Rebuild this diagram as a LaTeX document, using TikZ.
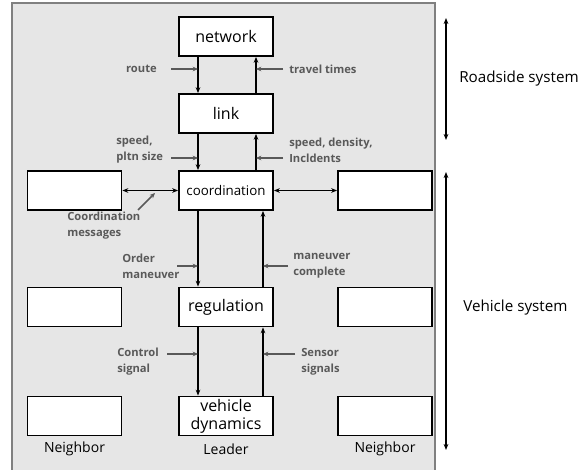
\documentclass[tikz,border=0pt]{standalone}
\usepackage{fontspec}
\setmainfont{Open Sans}
\usetikzlibrary{arrows.meta,positioning}

\definecolor{panelgray}{HTML}{E6E6E6}
\definecolor{hintgray}{HTML}{595959}

\begin{document}
\begin{tikzpicture}[x=0.75pt,y=-0.75pt,
	blockbox/.style={draw,line width=1.3pt,fill=white,minimum width=70.5pt,minimum height=29.25pt,inner sep=0pt,font=\fontsize{12}{12.5}\selectfont},
	flow/.style={line width=1.3pt,-{Stealth[length=4.5pt,width=3.5pt]}},
	dflow/.style={line width=1.3pt,{Stealth[length=4.5pt,width=3.5pt]}-{Stealth[length=4.5pt,width=3.5pt]}},
	hint/.style={draw=hintgray,line width=1.2pt,-{Stealth[length=4pt,width=3.5pt]}},
	hinttext/.style={text=hintgray,font=\fontsize{8.4}{12}\selectfont\bfseries,align=left,inner sep=0pt},
	nametext/.style={font=\fontsize{10.5}{12}\selectfont,inner sep=0pt},
	sidetext/.style={font=\fontsize{11.4}{14}\selectfont,inner sep=0pt}]
		\useasboundingbox (0,0) rectangle (588,470);
		\draw[gray,fill=panelgray,line width=0.8pt] (12,3) rectangle (435,474);

		% leader blocks
		\node[blockbox]									(network)		at (226,36.5)	{network};
		\node[blockbox]									(link)			at (226,113.5)	{link};
		\node[blockbox,font=\fontsize{10}{11}\selectfont]	(coordination)	at (226,190.5)	{coordination};
		\node[blockbox]									(regulation)	at (226,307)	{regulation};
		\node[blockbox,align=center,font=\fontsize{12}{13.5}\selectfont]	(dynamics)	at (226,416)	{vehicle\\dynamics};

		% neighbor blocks
		\node[blockbox]		(lcoord)	at (74.5,190.5)	{};
		\node[blockbox]		(lreg)		at (74.5,307)	{};
		\node[blockbox]		(ldyn)		at (74.5,416)	{};
		\node[blockbox]		(rcoord)	at (385,190.5)	{};
		\node[blockbox]		(rreg)		at (385,307)	{};
		\node[blockbox]		(rdyn)		at (385,416)	{};

		\node[nametext]		(lname)		at (74.5,449)	{Neighbor};
		\node[nametext]		(leader)	at (226,449)	{Leader};
		\node[nametext]		(rname)		at (385,449)	{Neighbor};

		% columns of the vertical arrows
		\coordinate (dn) at (198,0);
		\coordinate (up) at (256,0);
		\coordinate (uplow) at (263,0);

		\draw[flow] (network.south -| dn) -- (link.north -| dn);
		\draw[flow] (link.north -| up) -- (network.south -| up);
		\draw[flow] (link.south -| dn) -- (coordination.north -| dn);
		\draw[flow] (coordination.north -| up) -- (link.south -| up);
		\draw[flow] (coordination.south -| dn) -- (regulation.north -| dn);
		\draw[flow] (regulation.north -| uplow) -- (coordination.south -| uplow);
		\draw[flow] (regulation.south -| dn) -- (dynamics.north -| dn);
		\draw[flow] (dynamics.north -| uplow) -- (regulation.south -| uplow);

		\draw[dflow] (lcoord) -- (coordination);
		\draw[dflow] (rcoord) -- (coordination);

		% signal labels
		\node[hinttext,anchor=east]		(route)		at (157,69)		{route};
		\node[hinttext,anchor=west]		(travel)	at (289,69)		{travel times};
		\node[hinttext,anchor=west]		(pltn)		at (116,150)	{speed,\\pltn size};
		\node[hinttext,anchor=west]		(density)	at (289,150)	{speed, density,\\Incldents};
		\node[hinttext,anchor=west]		(messages)	at (67,226)		{Coordination\\messages};
		\node[hinttext,anchor=west]		(order)		at (122,266)	{Order\\maneuver};
		\node[hinttext,anchor=west]		(complete)	at (293,266)	{maneuver\\complete};
		\node[hinttext,anchor=west]		(control)	at (117,361.5)	{Control\\signal};
		\node[hinttext,anchor=west]		(sensor)	at (301,361.5)	{Sensor\\signals};

		\coordinate (routein)		at (171,69);
		\coordinate (travelin)		at (283,69);
		\coordinate (pltnin)		at (171,158);
		\coordinate (densityin)		at (283,158);
		\coordinate (messagesin)	at (138,210);
		\coordinate (messagesout)	at (155,193);
		\coordinate (orderin)		at (177,266);
		\coordinate (completein)	at (288,266);
		\coordinate (controlin)		at (167,354);
		\coordinate (sensorin)		at (295,354);

		\draw[hint] (routein) -- (routein -| dn);
		\draw[hint] (travelin) -- (travelin -| up);
		\draw[hint] (pltnin) -- (pltnin -| dn);
		\draw[hint] (densityin) -- (densityin -| up);
		\draw[hint] (messagesin) -- (messagesout);
		\draw[hint] (orderin) -- (orderin -| dn);
		\draw[hint] (completein) -- (completein -| uplow);
		\draw[hint] (controlin) -- (controlin -| dn);
		\draw[hint] (sensorin) -- (sensorin -| uplow);

		% system ranges
		\coordinate (roadtop)	at (446,18);
		\coordinate (roadbot)	at (446,140);
		\coordinate (vehtop)	at (446,172);
		\coordinate (vehbot)	at (446,450);
		\draw[dflow] (roadtop) -- (roadbot);
		\draw[dflow] (vehtop) -- (vehbot);
		\node[sidetext,anchor=west]		(roadside)	at (459,79)		{Roadside system};
		\node[sidetext,anchor=west]		(vehicle)	at (463,308)	{Vehicle system};
	\end{tikzpicture}
\end{document}
